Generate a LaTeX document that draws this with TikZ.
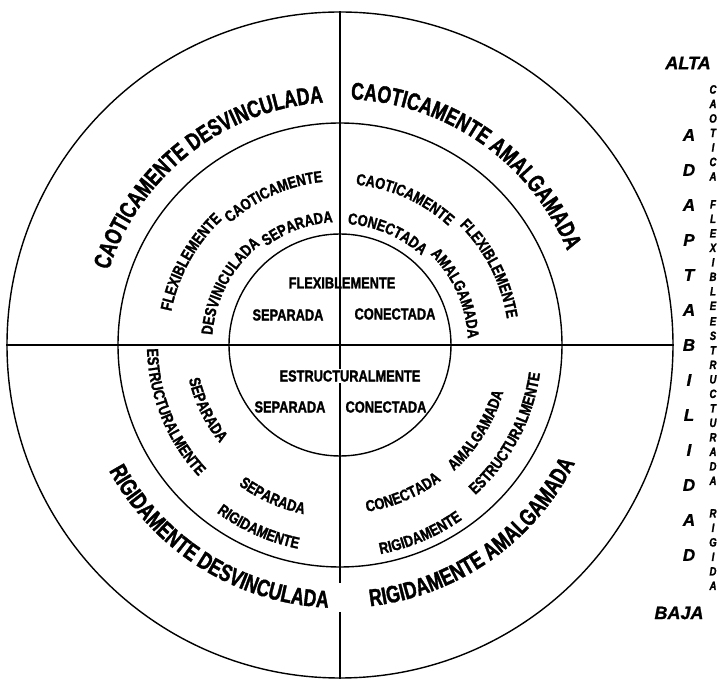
\documentclass[tikz,border=0pt]{standalone}
\usepackage{fontspec}
\usepackage{tikz}
\usetikzlibrary{positioning, decorations.text}
\newfontfamily\schmal[FakeStretch=0.8, FakeBold=1.5, ItalicFont={Liberation Sans Bold Italic}]{Liberation Sans Bold}
\newfontfamily\enger[FakeStretch=0.74, FakeBold=1.5]{Liberation Sans Bold}
\newfontfamily\breit[FakeBold=1, ItalicFont={Liberation Sans Bold Italic}]{Liberation Sans Bold}
\newcommand{\aussen}{\enger\fontsize{24pt}{24pt}\selectfont}
\newcommand{\mitte}{\schmal\fontsize{16pt}{16pt}\selectfont}
\tikzset{ring/.style={circle,draw,line width=1.4pt,inner sep=0},
	linie/.style={line width=1.4pt},
	kern/.style={font=\mitte, inner sep=1pt},
	seite/.style={font=\breit\itshape\fontsize{17pt}{17pt}\selectfont, inner sep=0},
	stapel/.style={font=\schmal\itshape\fontsize{12pt}{14.5pt}\selectfont, align=center, inner sep=0, anchor=north} }

% Woerter auf Boegen: oben im Uhrzeigersinn, unten dagegen
\newcommand{\oben}[4]{\path [decorate, decoration={text along path, text={|#3|#4}, text align=center}]
	({#2+50}:#1) arc [start angle={#2+50}, end angle={#2-50}, radius=#1];}
\newcommand{\unten}[4]{\path [decorate, decoration={text along path, text={|#3|#4}, text align=center}]
	({#2-50}:#1) arc [start angle={#2-50}, end angle={#2+50}, radius=#1];}

\begin{document}
\begin{tikzpicture}[x=1pt, y=1pt]
  \useasboundingbox (-340,-337) rectangle (381,345);

  \node (rand) [ring, minimum size=666pt] at (0,0) {};
  \node (mittel) [ring, minimum size=444pt] at (0,0) {};
  \node (innen) [ring, minimum size=222pt] at (0,0) {};

  \coordinate (luecke1) at (0,-238);
  \coordinate (luecke2) at (0,-267);
  \draw [linie] (rand.west) -- (rand.east);
  \draw [linie] (rand.north) -- (luecke1);
  \draw [linie] (luecke2) -- (rand.south);

  % aeusserer Ring
  \oben{243}{128}{\aussen}{CAOTICAMENTE DESVINCULADA}
  \oben{246}{55}{\aussen}{CAOTICAMENTE AMALGAMADA}
  \unten{263}{238}{\aussen}{RIGIDAMENTE DESVINCULADA}
  \unten{263}{305}{\aussen}{RIGIDAMENTE AMALGAMADA}

  % mittlerer Ring
  \oben{172}{151}{\mitte}{FLEXIBLEMENTE}
  \oben{164}{114}{\mitte}{CAOTICAMENTE}
  \oben{128}{152}{\mitte}{DESVINICULADA}
  \oben{123}{110}{\mitte}{SEPARADA}
  \oben{161}{66}{\mitte}{CAOTICAMENTE}
  \oben{169}{27}{\mitte}{FLEXIBLEMENTE}
  \oben{121}{67}{\mitte}{CONECTADA}
  \oben{128}{24}{\mitte}{AMALGAMADA}
  \unten{193}{202}{\mitte}{ESTRUCTURALMENTE}
  \unten{208}{246}{\mitte}{RIGIDAMENTE}
  \unten{155}{206}{\mitte}{SEPARADA}
  \unten{173}{246}{\mitte}{SEPARADA}
  \unten{169}{293}{\mitte}{CONECTADA}
  \unten{170}{328}{\mitte}{AMALGAMADA}
  \unten{213}{293}{\mitte}{RIGIDAMENTE}
  \unten{202}{332}{\mitte}{ESTRUCTURALMENTE}

  % Kern
  \node (flex) [kern] at (2,62) {FLEXIBLEMENTE};
  \node (sep1) [kern] at (-52,30) {SEPARADA};
  \node (con1) [kern] at (55,31) {CONECTADA};
  \node (estr) [kern, fill=white] at (10,-31) {ESTRUCTURALMENTE};
  \node (sep2) [kern] at (-50,-62) {SEPARADA};
  \node (con2) [kern] at (46,-62) {CONECTADA};

  % Skala rechts
  \node (alta) [seite, font=\breit\itshape\fontsize{18pt}{18pt}\selectfont] at (348,282) {ALTA};
  \foreach \l [count=\i] in {A,D,A,P,T,A,B,I,L,I,D,A,D}
    \node (adapt\i) [seite] at (349,{245-35*\i}) {\l};
  \node (baja) [seite, font=\breit\itshape\fontsize{18pt}{18pt}\selectfont] at (339,-268) {BAJA};

  \node (caot) [stapel] at (373,260) {C\\A\\O\\T\\I\\C\\A};
  \node (flexi) [stapel] at (373,145) {F\\L\\E\\X\\I\\B\\L\\E};
  \node (estru) [stapel] at (373,28) {E\\S\\T\\R\\U\\C\\T\\U\\R\\A\\D\\A};
  \node (rigi) [stapel] at (373,-164) {R\\I\\G\\I\\D\\A};
\end{tikzpicture}
\end{document}
